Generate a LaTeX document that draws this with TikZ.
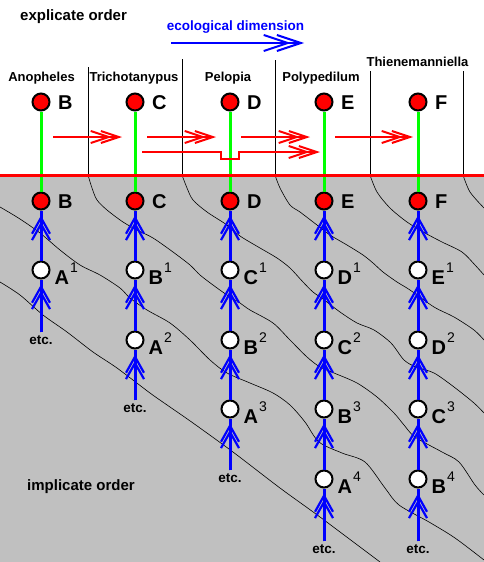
\documentclass[tikz,border=0pt]{standalone}
\usepackage{fontspec}
\setmainfont{Liberation Sans}
\usetikzlibrary{arrows.meta,positioning}

\definecolor{bggray}{HTML}{C0C0C0}
\definecolor{lred}{HTML}{FF0000}
\definecolor{lgreen}{HTML}{00FF00}
\definecolor{lblue}{HTML}{0000FF}

\newcommand{\supnum}[1]{\kern1pt\raisebox{12pt}{\fontsize{14}{14}\selectfont\mdseries #1}}

\begin{document}
\begin{tikzpicture}[x=1pt,y=-1pt,
    redball/.style={circle,draw=black,fill=lred,line width=2pt,minimum size=17pt,inner sep=0pt},
    whiteball/.style={redball,fill=white},
    bigltr/.style={font=\fontsize{20}{20}\selectfont\bfseries,inner sep=0pt,anchor=base west,xshift=7.5pt,yshift=-7pt},
    supltr/.style={font=\fontsize{20}{20}\selectfont\bfseries,inner sep=0pt,anchor=base west,xshift=4pt,yshift=-14pt},
    species/.style={font=\fontsize{13}{13}\selectfont\bfseries,inner sep=0pt},
    etcnode/.style={font=\fontsize{13.5}{13.5}\selectfont\bfseries,inner sep=3pt},
    stem/.style={lgreen,line width=3pt},
    bluelink/.style={lblue,line width=3pt,
      postaction={draw,shorten >=5pt,
        -{Straight Barb[length=16pt,width=18pt,line width=2.2pt,sep=-13pt]Straight Barb[length=16pt,width=18pt,line width=2.2pt]}}},
    flowarrow/.style={lred,line width=2pt,
      -{Straight Barb[length=18pt,width=12pt,line width=2pt,sep=-12pt]Straight Barb[length=18pt,width=12pt,line width=2pt]}},
    divider/.style={black,line width=0.8pt},
    contour/.style={black,line width=0.6pt}]
  \useasboundingbox (0,0) rectangle (484,562);
  \fill[bggray] (0,175) rectangle (484,562);

  % contour lines in the implicate order
  \draw[contour] plot[smooth,tension=0.5] coordinates {(0,282) (20,295) (43,315) (67,332) (93,352) (117,368) (150,393) (170,407) (193,423) (233,452) (280,488) (320,517) (380,562)};
  \draw[contour] plot[smooth,tension=0.5] coordinates {(0,207) (20,219) (40,233) (60,250) (80,265) (100,275) (120,288) (130,298) (147,310) (170,323) (190,340) (210,360) (227,373) (250,383) (273,393) (290,405) (305,422) (319,442) (342,453) (365,462) (385,488) (399,505) (429,522) (455,538) (484,560)};
  \draw[contour] plot[smooth,tension=0.5] coordinates {(88,175) (92,188) (97,200) (107,210) (123,222) (137,230) (153,238) (173,252) (190,265) (200,275) (213,285) (227,295) (240,303) (250,310) (273,323) (290,340) (307,357) (320,367) (334,373) (357,383) (377,397) (394,413) (404,425) (415,437) (442,452) (459,462) (475,485) (484,495)};
  \draw[contour] plot[smooth,tension=0.5] coordinates {(182,175) (187,188) (193,200) (207,212) (227,225) (240,236) (260,248) (277,258) (290,268) (303,282) (313,292) (323,299) (340,312) (357,323) (374,330) (391,343) (404,360) (416,367) (434,373) (454,387) (474,403) (484,413)};
  \draw[contour] plot[smooth,tension=0.5] coordinates {(275,175) (280,188) (290,205) (300,212) (317,225) (330,235) (347,245) (363,255) (373,263) (383,272) (397,282) (410,290) (434,307) (454,317) (474,330) (484,340)};
  \draw[contour] plot[smooth,tension=0.5] coordinates {(370,175) (377,192) (390,208) (407,222) (425,233) (442,242) (462,252) (475,265) (484,275)};
  \draw[contour] plot[smooth,tension=0.5] coordinates {(463,175) (470,192) (484,208)};

  % dividers between the genera
  \foreach \x/\t in {88/67,182/59,275/60,370/71,463/71}
    \draw[divider] (\x,\t) -- (\x,175);

  % explicate order
  \node[redball] (tB) at (41,102) {};  \node[bigltr] (tBl) at (tB.east) {B};
  \node[redball] (tC) at (135,102) {}; \node[bigltr] (tCl) at (tC.east) {C};
  \node[redball] (tD) at (230,102) {}; \node[bigltr] (tDl) at (tD.east) {D};
  \node[redball] (tE) at (324,102) {}; \node[bigltr] (tEl) at (tE.east) {E};
  \node[redball] (tF) at (418,102) {}; \node[bigltr] (tFl) at (tF.east) {F};

  % implicate order
  \node[redball] (rB) at (41,201) {};    \node[bigltr] (rBl) at (rB.east) {B};
  \node[whiteball] (A1) at (41,270) {};  \node[supltr] (A1l) at (A1.east) {A\supnum{1}};
  \node[etcnode] (etc1) at (41,340) {etc.};

  \node[redball] (rC) at (135,201) {};   \node[bigltr] (rCl) at (rC.east) {C};
  \node[whiteball] (B1) at (135,270) {}; \node[supltr] (B1l) at (B1.east) {B\supnum{1}};
  \node[whiteball] (A2) at (135,340) {}; \node[supltr] (A2l) at (A2.east) {A\supnum{2}};
  \node[etcnode] (etc2) at (135,408) {etc.};

  \node[redball] (rD) at (230,201) {};   \node[bigltr] (rDl) at (rD.east) {D};
  \node[whiteball] (C1) at (230,270) {}; \node[supltr] (C1l) at (C1.east) {C\supnum{1}};
  \node[whiteball] (B2) at (230,340) {}; \node[supltr] (B2l) at (B2.east) {B\supnum{2}};
  \node[whiteball] (A3) at (230,409) {}; \node[supltr] (A3l) at (A3.east) {A\supnum{3}};
  \node[etcnode] (etc3) at (230,478) {etc.};

  \node[redball] (rE) at (324,201) {};   \node[bigltr] (rEl) at (rE.east) {E};
  \node[whiteball] (D1) at (324,270) {}; \node[supltr] (D1l) at (D1.east) {D\supnum{1}};
  \node[whiteball] (C2) at (324,340) {}; \node[supltr] (C2l) at (C2.east) {C\supnum{2}};
  \node[whiteball] (B3) at (324,409) {}; \node[supltr] (B3l) at (B3.east) {B\supnum{3}};
  \node[whiteball] (A4) at (324,479) {}; \node[supltr] (A4l) at (A4.east) {A\supnum{4}};
  \node[etcnode] (etc4) at (324,549) {etc.};

  \node[redball] (rF) at (418,201) {};   \node[bigltr] (rFl) at (rF.east) {F};
  \node[whiteball] (E1) at (418,270) {}; \node[supltr] (E1l) at (E1.east) {E\supnum{1}};
  \node[whiteball] (D2) at (418,340) {}; \node[supltr] (D2l) at (D2.east) {D\supnum{2}};
  \node[whiteball] (C3) at (418,409) {}; \node[supltr] (C3l) at (C3.east) {C\supnum{3}};
  \node[whiteball] (B4) at (418,479) {}; \node[supltr] (B4l) at (B4.east) {B\supnum{4}};
  \node[etcnode] (etc5) at (418,549) {etc.};

  % green stems, then the border line over them
  \draw[stem] (tB) -- (rB);
  \draw[stem] (tC) -- (rC);
  \draw[stem] (tD) -- (rD);
  \draw[stem] (tE) -- (rE);
  \draw[stem] (tF) -- (rF);
  \draw[lred,line width=3pt] (0,175) -- (484,175);

  % ecological dimension
  \coordinate (f1s) at (53,137);  \coordinate (f1e) at (122,137);
  \coordinate (f2s) at (147,137); \coordinate (f2e) at (216,137);
  \coordinate (f3s) at (241,137); \coordinate (f3e) at (310,137);
  \coordinate (f4s) at (335,137); \coordinate (f4e) at (413,137);
  \coordinate (fbs) at (142,152); \coordinate (fbe) at (320,152);
  \draw[flowarrow] (f1s) -- (f1e);
  \draw[flowarrow] (f2s) -- (f2e);
  \draw[flowarrow] (f3s) -- (f3e);
  \draw[flowarrow] (f4s) -- (f4e);
  \draw[flowarrow] (fbs) -- (221,152) -- (221,159) -- (239,159) -- (239,152) -- (fbe);

  % descent lines
  \draw[bluelink] (etc1) -- (A1);
  \draw[bluelink] (A1) -- (rB);
  \draw[bluelink] (etc2) -- (A2);
  \draw[bluelink] (A2) -- (B1);
  \draw[bluelink] (B1) -- (rC);
  \draw[bluelink] (etc3) -- (A3);
  \draw[bluelink] (A3) -- (B2);
  \draw[bluelink] (B2) -- (C1);
  \draw[bluelink] (C1) -- (rD);
  \draw[bluelink] (etc4) -- (A4);
  \draw[bluelink] (A4) -- (B3);
  \draw[bluelink] (B3) -- (C2);
  \draw[bluelink] (C2) -- (D1);
  \draw[bluelink] (D1) -- (rE);
  \draw[bluelink] (etc5) -- (B4);
  \draw[bluelink] (B4) -- (C3);
  \draw[bluelink] (C3) -- (D2);
  \draw[bluelink] (D2) -- (E1);
  \draw[bluelink] (E1) -- (rF);

  % texts
  \node[species] (anoph) at (41.5,78) {Anopheles};
  \node[species] (trich) at (134,78) {Trichotanypus};
  \node[species] (pelop) at (228,78) {Pelopia};
  \node[species] (polyp) at (321,78) {Polypedilum};
  \node[species] (thien) at (417.5,62) {Thienemanniella};
  \node[font=\fontsize{15}{15}\selectfont\bfseries,inner sep=0pt,anchor=west] (expl) at (20,17) {explicate order};
  \node[font=\fontsize{15}{15}\selectfont\bfseries,inner sep=0pt,anchor=west] (impl) at (27,487) {implicate order};
  \node[font=\fontsize{13.5}{13.5}\selectfont\bfseries,text=lblue,inner sep=0pt] (ecol) at (235.5,27) {ecological dimension};
  \coordinate (ecs) at (171,43); \coordinate (ece) at (304,43);
  \draw[lblue,line width=2.5pt,-{Straight Barb[length=24pt,width=16pt,line width=2pt,sep=-15pt]Straight Barb[length=24pt,width=16pt,line width=2pt]}] (ecs) -- (ece);
\end{tikzpicture}
\end{document}
